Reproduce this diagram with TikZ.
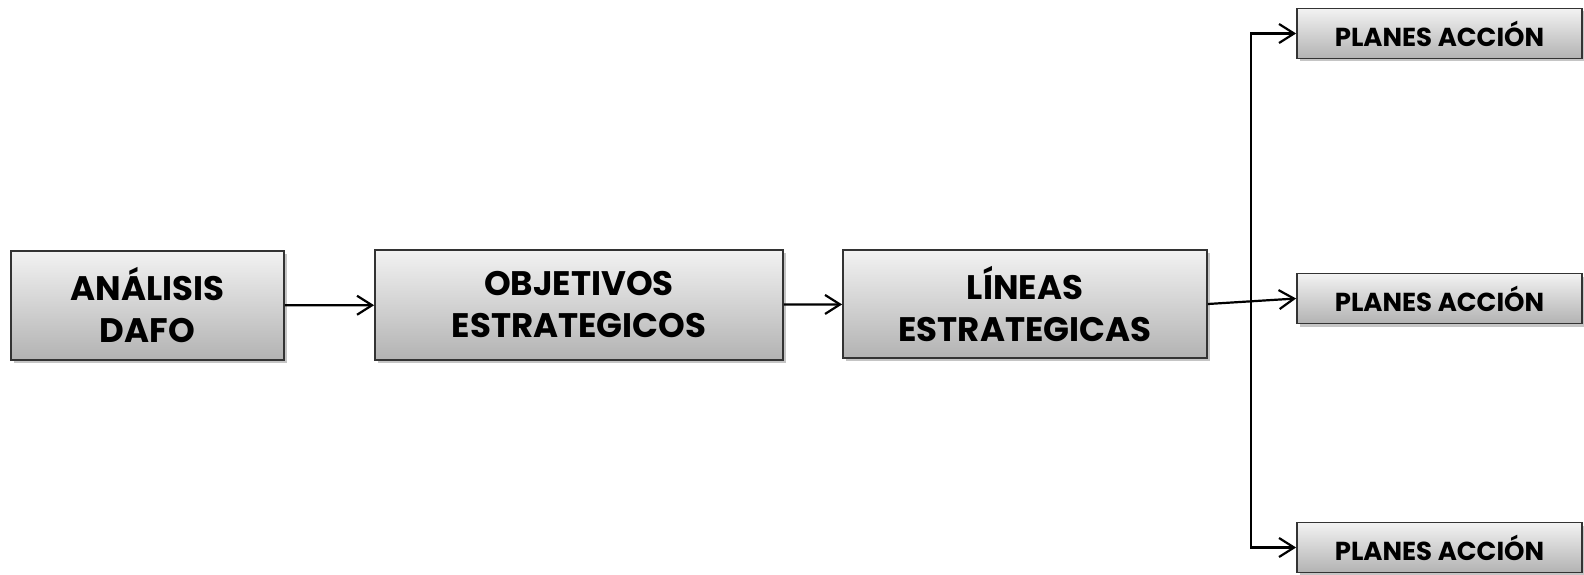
\documentclass[tikz,border=0pt]{standalone}
\usepackage{fontspec}
\setmainfont{Poppins}
\usepackage{tikz}
\usetikzlibrary{arrows.meta}
\usetikzlibrary{shadows}
\tikzset{
    paso/.style={draw=black!80, line width=1.8pt, top color=black!5, bottom color=black!30,
        drop shadow={shadow xshift=3pt, shadow yshift=-3pt, fill=black!45, opacity=.5},
        align=center, inner sep=0pt, font=\bfseries\fontsize{34}{42}\selectfont},
    plan/.style={paso, minimum width=285pt, minimum height=50pt,
        font=\bfseries\fontsize{26}{30}\selectfont},
    flecha/.style={line width=2.2pt, -{Straight Barb[length=15pt,width=19pt,line width=2.2pt]}}
}
\begin{document}
\begin{tikzpicture}[x=1pt,y=-1pt]
		\useasboundingbox (0,0) rectangle (1584,575);

		% etapas
		\node[paso, minimum width=273pt, minimum height=109pt] (dafo) at (147.5,305.5) {ANÁLISIS\\DAFO};
		\node[paso, minimum width=408pt, minimum height=110pt] (objetivos) at (579,305) {OBJETIVOS\\ESTRATEGICOS};
		\node[paso, minimum width=364pt, minimum height=108pt] (lineas) at (1025,304) {LÍNEAS\\ESTRATEGICAS};

		% planes
		\node[plan] (plan1) at (1439.5,33.5) {PLANES ACCIÓN};
		\node[plan] (plan2) at (1439.5,298.5) {PLANES ACCIÓN};
		\node[plan] (plan3) at (1439.5,547.5) {PLANES ACCIÓN};

		% arrows
		\draw[flecha] (dafo) -- (objetivos);
		\draw[flecha] (objetivos) -- (lineas);
		\draw[flecha] (lineas.east) -- (plan2.west);

		\coordinate (rama) at (1251,298);
		\draw[flecha] (rama) |- (plan1.west);
		\draw[flecha] (rama) |- (plan3.west);
\end{tikzpicture}
\end{document}
